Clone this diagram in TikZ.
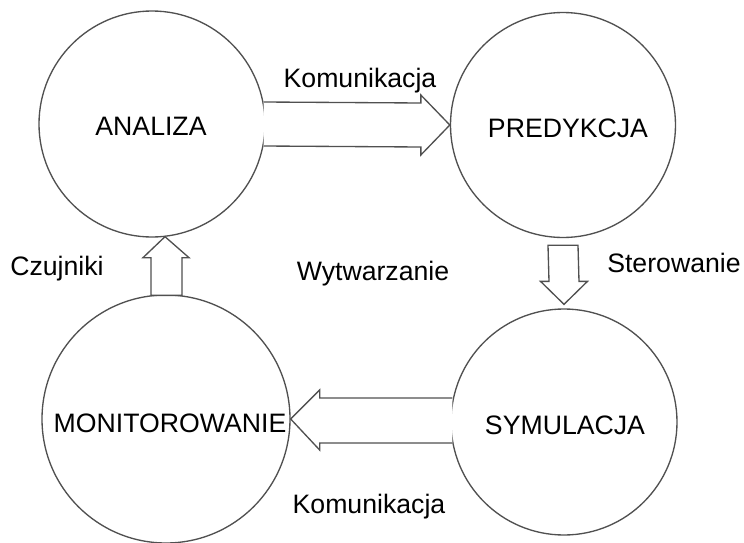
\documentclass[tikz,border=0pt]{standalone}
\usepackage{fontspec}
\setmainfont{Liberation Sans}
\usetikzlibrary{calc}
\definecolor{linegray}{HTML}{505050}
\tikzset{
  proc/.style={circle, draw=linegray, line width=1pt, inner sep=0pt},
  lbl/.style={anchor=base, inner sep=0pt, font=\fontsize{20}{22}\selectfont},
  blockarrow/.style={draw=linegray, line width=1pt, line join=miter, fill=white}
}
\begin{document}
\begin{tikzpicture}[x=0.75pt,y=-0.75pt]
\useasboundingbox (0,0) rectangle (744,543);
\node[proc, minimum size=169.5pt] (A) at (152,124) {};
\node[proc, minimum size=168.75pt] (P) at (563,125) {};
\node[proc, minimum size=169.5pt] (S) at (564,422) {};
\node[proc, minimum size=186pt] (M) at (166,419) {};
\node[lbl] (At) at (151,135) {ANALIZA};
\node[lbl] (Pt) at (568,137) {PREDYKCJA};
\node[lbl] (St) at (565,434) {SYMULACJA};
\node[lbl] (Mt) at (170,432) {MONITOROWANIE};

% top arrow: ANALIZA -> PREDYKCJA
\draw[blockarrow] ($(A.east)+(-2,-22)$) -- ($(P.west)+(-29,-22)$) -- ($(P.west)+(-29,-30)$)
  -- (P.west) -- ($(P.west)+(-29,30)$) -- ($(P.west)+(-29,22)$) -- ($(A.east)+(-2,22)$);
% Sterowanie arrow: PREDYKCJA -> SYMULACJA
\draw[blockarrow] ($(P.south)+(-15,7)$) -- ($(P.south)+(15,7)$) -- ($(S.north)+(15,-27)$)
  -- ($(S.north)+(23.5,-27)$) -- ($(S.north)+(0,-4)$) -- ($(S.north)+(-23.5,-27)$)
  -- ($(S.north)+(-15,-27)$) -- cycle;
% bottom arrow: SYMULACJA -> MONITOROWANIE
\draw[blockarrow] ($(S.west)+(2,-24)$) -- ($(M.east)+(29,-21)$) -- ($(M.east)+(29,-29)$)
  -- (M.east) -- ($(M.east)+(29,31)$) -- ($(M.east)+(29,24)$) -- ($(S.west)+(2,21)$);
% Czujniki arrow: MONITOROWANIE -> ANALIZA
\draw[blockarrow] ($(M.north)+(-15,1)$) -- ($(A.south)+(-1,20)$) -- ($(A.south)+(-9,20)$)
  -- ($(A.south)+(13,-1)$) -- ($(A.south)+(37,20)$) -- ($(A.south)+(30,20)$)
  -- ($(M.north)+(16,1)$) -- cycle;

\node[lbl] (k1) at (360,87) {Komunikacja};
\node[lbl] (k2) at (369,513) {Komunikacja};
\node[lbl] (cz) at (57,275) {Czujniki};
\node[lbl] (wy) at (373,280) {Wytwarzanie};
\node[lbl] (st) at (674,272) {Sterowanie};
\end{tikzpicture}
\end{document}
